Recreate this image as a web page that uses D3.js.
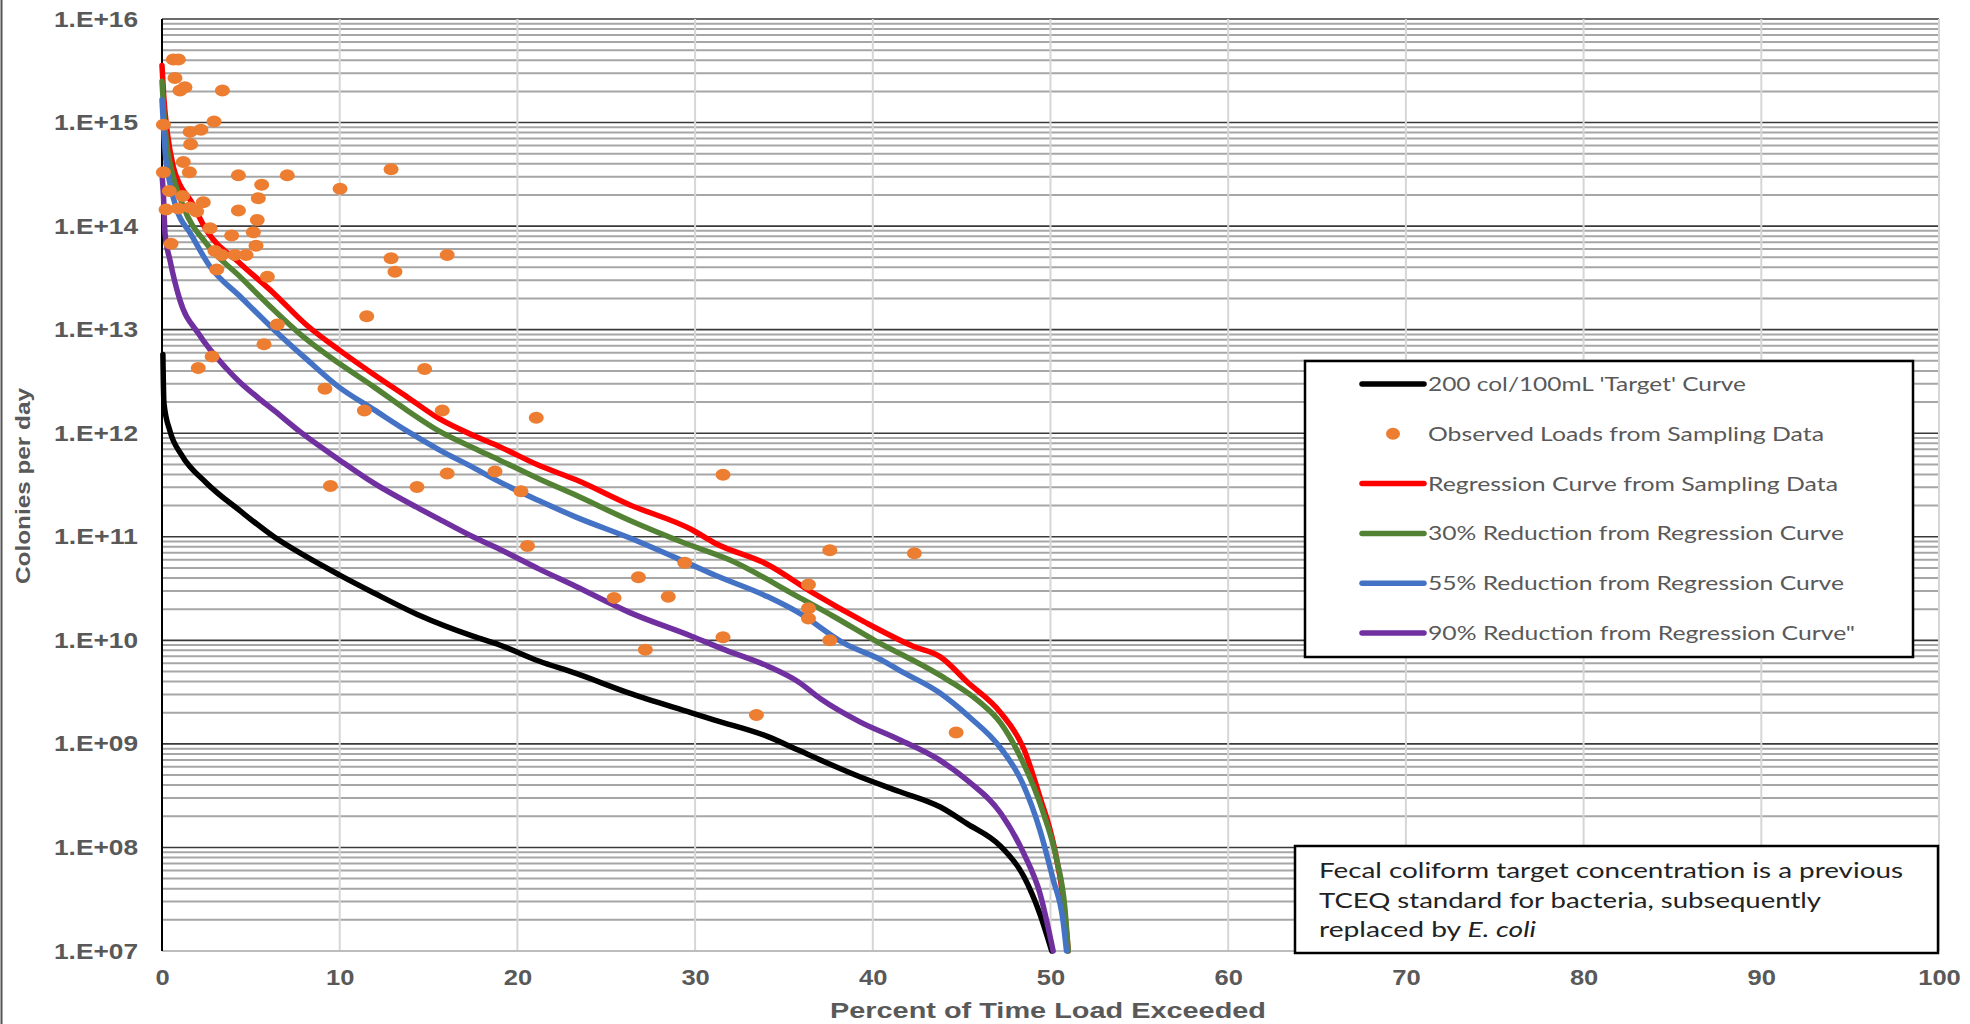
<!DOCTYPE html>
<html lang="en">
<head>
<meta charset="utf-8">
<script src="https://d3js.org/d3.v7.min.js"></script>
<style>
  body { margin: 0; background: #fff; }
  svg { display: block; }
</style>
</head>
<body>
<script>
var width = 1970, height = 1024;
var plot = {left: 162, right: 1939, top: 19, bottom: 951};

// x = percent of time load exceeded, *Exp = log10(colonies per day)
var targetX   = [0.05, 0.11, 0.45, 1.1, 2.5, 4.4, 6.3, 8.1, 10, 11.9, 14.5, 17.5, 19, 21.2, 23.3, 26.3, 29.8, 31.1, 34.1, 35.8, 37.5, 39.3, 41.5, 43.8, 45.3, 47.2, 48.5, 49.4, 50.07];
var targetExp = [12.76, 12.29, 12.02, 11.79, 11.52, 11.25, 11.0, 10.81, 10.63, 10.46, 10.24, 10.04, 9.955, 9.8, 9.68, 9.49, 9.3, 9.23, 9.07, 8.94, 8.81, 8.68, 8.54, 8.39, 8.23, 8.01, 7.72, 7.36, 7.0];

var regX   = [0, 0.1, 0.3, 0.64, 1.0, 1.6, 2.5, 4.4, 6.3, 8.1, 10, 11.9, 13.8, 15.6, 17.5, 19, 21.2, 23.3, 26.3, 29.8, 31.1, 34.1, 36.7, 39.5, 42.3, 43.8, 45.3, 47.2, 48.5, 49.4, 50.2, 50.7, 51.0];
var regExp = [15.55, 15.25, 14.9, 14.57, 14.4, 14.25, 13.96, 13.64, 13.35, 13.05, 12.8, 12.57, 12.35, 12.14, 11.98, 11.87, 11.69, 11.55, 11.31, 11.07, 10.94, 10.73, 10.45, 10.18, 9.94, 9.84, 9.6, 9.3, 8.95, 8.49, 8.01, 7.52, 7.0];

var red30X   = [0, 0.1, 0.3, 0.45, 1.2, 2.5, 4.4, 6.3, 8.1, 10, 11.9, 13.8, 15.6, 17.5, 19, 21.2, 23.3, 26.3, 29.4, 31.9, 35.8, 37.8, 40.1, 43.6, 45.9, 47.2, 48.2, 49.6, 50.35, 50.8, 51.0];
var red30Exp = [15.4, 15.1, 14.75, 14.61, 14.19, 13.83, 13.51, 13.19, 12.91, 12.67, 12.45, 12.22, 12.02, 11.86, 11.74, 11.56, 11.4, 11.16, 10.94, 10.78, 10.42, 10.23, 10.0, 9.68, 9.42, 9.2, 8.91, 8.33, 7.88, 7.43, 7.0];

var red55X   = [0, 0.17, 0.45, 0.83, 1.6, 2.7, 4.4, 6.3, 8.1, 10, 11.9, 13.8, 15.6, 17.5, 19, 21.2, 23.3, 26.3, 29.4, 31.1, 34.1, 35.8, 38.4, 40.6, 41.5, 43.7, 45.5, 47.1, 48.4, 49.4, 50.15, 50.7, 50.9];
var red55Exp = [15.22, 14.73, 14.41, 14.16, 13.93, 13.61, 13.32, 13.0, 12.72, 12.44, 12.23, 12.02, 11.84, 11.67, 11.53, 11.35, 11.19, 10.99, 10.76, 10.63, 10.42, 10.27, 9.97, 9.8, 9.71, 9.5, 9.25, 8.98, 8.63, 8.17, 7.69, 7.3, 7.0];

var red90X   = [0, 0.08, 0.17, 0.45, 1.0, 2.1, 3.6, 4.4, 5.5, 6.3, 7.8, 10, 11.9, 14.5, 15.6, 17.5, 19, 21.2, 23.3, 26.3, 29.8, 31.5, 34.1, 35.8, 37.1, 39.3, 41.5, 43.7, 45.3, 47.2, 48.5, 49.4, 50.15];
var red90Exp = [14.5, 14.3, 13.93, 13.67, 13.29, 12.95, 12.63, 12.49, 12.33, 12.22, 12.01, 11.74, 11.52, 11.27, 11.17, 11.0, 10.88, 10.69, 10.52, 10.27, 10.04, 9.92, 9.75, 9.6, 9.43, 9.21, 9.04, 8.85, 8.65, 8.33, 7.94, 7.56, 7.0];

// observed loads (sampling data)
var obsX   = [0.64, 0.92, 0.73, 1.01, 1.29, 3.4, 0.08, 1.58, 2.19, 2.93, 1.61, 1.2, 0.08, 1.54, 4.3, 7.05, 5.61, 10.02, 12.89, 0.41,
              1.16, 5.42, 0.23, 0.92, 1.58, 1.95, 2.32, 4.3, 5.36, 2.7, 3.92, 5.14, 5.29, 0.51, 2.98, 3.36, 4.1, 4.73, 3.08, 5.93,
              12.89, 13.11, 16.05, 11.52, 6.49, 5.74, 2.82, 2.04, 9.17, 14.78, 11.39, 15.77, 21.06, 9.48, 14.35, 16.05, 18.74, 20.2, 31.57, 20.57,
              29.42, 26.81, 25.44, 28.49, 27.2, 31.57, 37.58, 42.34, 36.38, 36.38, 36.38, 37.58, 33.45, 44.69];
var obsExp = [15.61, 15.61, 15.43, 15.31, 15.34, 15.31, 14.98, 14.91, 14.93, 15.01, 14.79, 14.62, 14.52, 14.52, 14.49, 14.49, 14.4, 14.36, 14.55, 14.34,
              14.29, 14.27, 14.16, 14.17, 14.18, 14.14, 14.23, 14.15, 14.06, 13.98, 13.91, 13.94, 13.81, 13.83, 13.76, 13.72, 13.72, 13.72, 13.58, 13.51,
              13.69, 13.56, 13.72, 13.13, 13.05, 12.86, 12.74, 12.63, 12.43, 12.62, 12.22, 12.22, 12.15, 11.49, 11.48, 11.61, 11.63, 11.44, 11.6, 10.91,
              10.75, 10.61, 10.41, 10.42, 9.91, 10.03, 10.87, 10.84, 10.54, 10.31, 10.21, 10.0, 9.28, 9.11];

var xTicks = [0, 10, 20, 30, 40, 50, 60, 70, 80, 90, 100];
var decades = [7, 8, 9, 10, 11, 12, 13, 14, 15, 16];

var legendLabels = ["200 col/100mL 'Target' Curve", "Observed Loads from Sampling Data", "Regression Curve from Sampling Data",
                    "30% Reduction from Regression Curve", "55% Reduction from Regression Curve", "90% Reduction from Regression Curve\""];
var legendColors = ["#000000", "#ED7D31", "#FF0000", "#548235", "#4472C4", "#7030A0"];
var legendWidths = [318, 396, 410, 416, 416, 427];

var x = d3.scaleLinear().domain([0, 100]).range([plot.left, plot.right]);
var y = d3.scaleLog().domain([1e7, 1e16]).range([plot.bottom, plot.top]);

var svg = d3.select("body").append("svg")
    .attr("width", width)
    .attr("height", height);

// page edge line on the left
svg.append("line")
    .attr("x1", 1.5).attr("x2", 1.5).attr("y1", 0).attr("y2", height)
    .attr("stroke", "#555").attr("stroke-width", 2);

// minor horizontal grid
var minor = [];
decades.slice(0, -1).forEach(function(k) {
    for (var m = 2; m <= 9; m++) minor.push(m * Math.pow(10, k));
});
svg.append("g").selectAll("line").data(minor).enter().append("line")
    .attr("x1", plot.left).attr("x2", plot.right)
    .attr("y1", function(d) { return y(d); }).attr("y2", function(d) { return y(d); })
    .attr("stroke", "#a6a6a6").attr("stroke-width", 2);

// major horizontal grid
svg.append("g").selectAll("line").data(decades.slice(1)).enter().append("line")
    .attr("x1", plot.left).attr("x2", plot.right)
    .attr("y1", function(d) { return y(Math.pow(10, d)); }).attr("y2", function(d) { return y(Math.pow(10, d)); })
    .attr("stroke", "#3a3a3a").attr("stroke-width", 1.6);

// vertical grid
svg.append("g").selectAll("line").data(xTicks.slice(1)).enter().append("line")
    .attr("x1", function(d) { return x(d); }).attr("x2", function(d) { return x(d); })
    .attr("y1", plot.top).attr("y2", plot.bottom)
    .attr("stroke", "#d6d6d6").attr("stroke-width", 2);

// bottom + left axis lines
svg.append("line")
    .attr("x1", plot.left).attr("x2", plot.right).attr("y1", plot.bottom).attr("y2", plot.bottom)
    .attr("stroke", "#bdbdbd").attr("stroke-width", 2);
svg.append("line")
    .attr("x1", plot.left).attr("x2", plot.left).attr("y1", plot.top).attr("y2", plot.bottom)
    .attr("stroke", "#000").attr("stroke-width", 2);

// y axis labels
var yAxis = d3.axisLeft(y)
    .tickValues(decades.map(function(k) { return Math.pow(10, k); }))
    .tickFormat(function(d) { return "1.E+" + d3.format("02d")(Math.round(Math.log10(d))); })
    .tickSize(0).tickPadding(24);
var gy = svg.append("g").attr("transform", "translate(" + plot.left + ",0)").call(yAxis);
gy.select(".domain").remove();
gy.selectAll("text")
    .attr("fill", "#595959")
    .style("font", "bold 22px 'Liberation Sans', Arial, sans-serif")
    .attr("textLength", 84).attr("lengthAdjust", "spacingAndGlyphs");

// x axis labels
var xAxis = d3.axisBottom(x).tickValues(xTicks).tickFormat(d3.format("d")).tickSize(0).tickPadding(18);
var gx = svg.append("g").attr("transform", "translate(0," + plot.bottom + ")").call(xAxis);
gx.select(".domain").remove();
gx.selectAll("text")
    .attr("fill", "#595959")
    .style("font", "bold 22px 'Liberation Sans', Arial, sans-serif")
    .attr("textLength", function(d) { return String(d).length * 14.2; })
    .attr("lengthAdjust", "spacingAndGlyphs");

// axis titles
svg.append("text")
    .attr("x", 1048).attr("y", 1018)
    .attr("text-anchor", "middle")
    .attr("fill", "#595959")
    .style("font", "bold 22px 'Liberation Sans', Arial, sans-serif")
    .attr("textLength", 436).attr("lengthAdjust", "spacingAndGlyphs")
    .text("Percent of Time Load Exceeded");

svg.append("text")
    .attr("transform", "translate(30,486) rotate(-90)")
    .attr("text-anchor", "middle")
    .attr("fill", "#595959")
    .style("font", "bold 20px 'Liberation Sans', Arial, sans-serif")
    .attr("textLength", 196).attr("lengthAdjust", "spacingAndGlyphs")
    .text("Colonies per day");

// curves
function pairs(xs, es) {
    return xs.map(function(v, i) { return {p: v, e: es[i]}; });
}
var line = d3.line()
    .x(function(d) { return x(d.p); })
    .y(function(d) { return y(Math.pow(10, d.e)); })
    .curve(d3.curveMonotoneX);

var curves = [
    {data: pairs(targetX, targetExp), color: "#000000"},
    {data: pairs(regX, regExp), color: "#FF0000"},
    {data: pairs(red30X, red30Exp), color: "#548235"},
    {data: pairs(red55X, red55Exp), color: "#4472C4"},
    {data: pairs(red90X, red90Exp), color: "#7030A0"}
];
svg.append("g").selectAll("path").data(curves).enter().append("path")
    .attr("d", function(d) { return line(d.data); })
    .attr("fill", "none")
    .attr("stroke", function(d) { return d.color; })
    .attr("stroke-width", 5.5)
    .attr("stroke-linejoin", "round")
    .attr("stroke-linecap", "round");

// observed points
svg.append("g").selectAll("ellipse").data(pairs(obsX, obsExp)).enter().append("ellipse")
    .attr("cx", function(d) { return x(d.p); })
    .attr("cy", function(d) { return y(Math.pow(10, d.e)); })
    .attr("rx", 7.5).attr("ry", 6)
    .attr("fill", "#ED7D31");

// legend
var lg = svg.append("g");
lg.append("rect")
    .attr("x", 1305).attr("y", 361).attr("width", 608).attr("height", 296)
    .attr("fill", "#fff").attr("stroke", "#000").attr("stroke-width", 2.5);
var rows = lg.selectAll("g.row").data(legendLabels).enter().append("g")
    .attr("class", "row")
    .attr("transform", function(d, i) { return "translate(0," + (384 + i * 49.8) + ")"; });
rows.each(function(d, i) {
    var g = d3.select(this);
    if (i === 1) {
        g.append("ellipse").attr("cx", 1393).attr("cy", 0).attr("rx", 7).attr("ry", 6).attr("fill", legendColors[i]);
    } else {
        g.append("line").attr("x1", 1362).attr("x2", 1424).attr("y1", 0).attr("y2", 0)
            .attr("stroke", legendColors[i]).attr("stroke-width", 5.5).attr("stroke-linecap", "round");
    }
    g.append("text")
        .attr("x", 1428).attr("y", 7)
        .attr("fill", "#595959")
        .style("font", "20px Lato, 'Open Sans', sans-serif")
        .attr("textLength", legendWidths[i]).attr("lengthAdjust", "spacingAndGlyphs")
        .text(d);
});

// note box
var note = svg.append("g");
note.append("rect")
    .attr("x", 1295).attr("y", 846).attr("width", 643).attr("height", 107)
    .attr("fill", "#fff").attr("stroke", "#000").attr("stroke-width", 2.5);
var noteFont = "21px Lato, 'Open Sans', sans-serif";
note.append("text").attr("x", 1319).attr("y", 878).attr("fill", "#222").style("font", noteFont)
    .attr("textLength", 584).attr("lengthAdjust", "spacingAndGlyphs")
    .text("Fecal coliform target concentration is a previous");
note.append("text").attr("x", 1319).attr("y", 908).attr("fill", "#222").style("font", noteFont)
    .attr("textLength", 502).attr("lengthAdjust", "spacingAndGlyphs")
    .text("TCEQ standard for bacteria, subsequently");
var t3 = note.append("text").attr("x", 1319).attr("y", 937).attr("fill", "#222").style("font", noteFont)
    .attr("textLength", 217).attr("lengthAdjust", "spacingAndGlyphs");
t3.append("tspan").text("replaced by ");
t3.append("tspan").style("font-style", "italic").text("E. coli");
</script>
</body>
</html>
